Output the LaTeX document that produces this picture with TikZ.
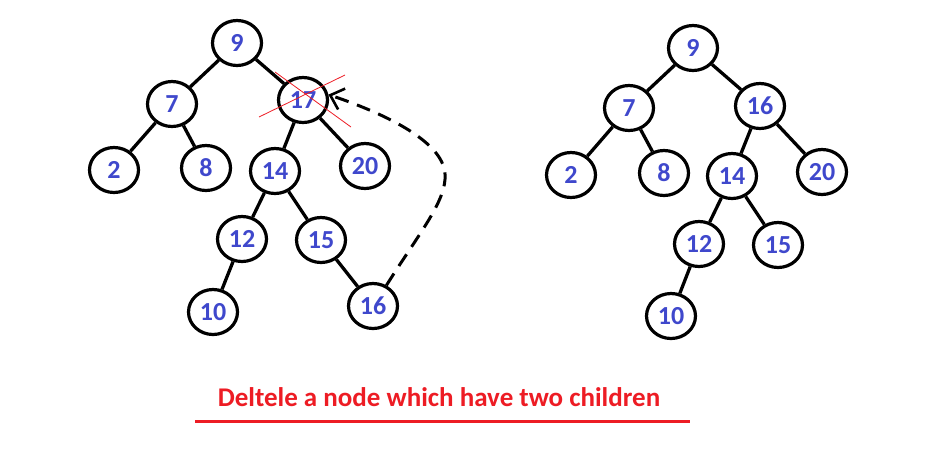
\documentclass[tikz,border=0pt]{standalone}
\usepackage{fontspec}
\setmainfont{Carlito}
\usepackage{xcolor}
\usetikzlibrary{shapes.geometric,arrows.meta}

\definecolor{numblue}{RGB}{63,72,204}
\definecolor{paintred}{RGB}{237,28,36}

\begin{document}
\begin{tikzpicture}[x=1pt,y=-1pt,
    treenode/.style={ellipse,draw,line width=3.2pt,minimum width=49pt,minimum height=45pt,inner sep=0pt,
        font=\fontsize{26}{26}\selectfont\bfseries,text=numblue},
    branch/.style={line width=3.3pt}]
    \useasboundingbox (0,0) rectangle (947,459);

    % before deleting 17
    \node[treenode] (L9) at (237,43) {9};
    \node[treenode] (L7) at (172,104) {7};
    \node[treenode] (L17) at (303,100) {17};
    \node[treenode] (L2) at (114,170) {2};
    \node[treenode] (L8) at (206,168) {8};
    \node[treenode] (L14) at (275,171) {14};
    \node[treenode] (L20) at (365,166) {20};
    \node[treenode] (L12) at (242,239) {12};
    \node[treenode] (L15) at (321,240) {15};
    \node[treenode] (L10) at (213,312) {10};
    \node[treenode] (L16) at (373,306) {16};

    \draw[branch] (L9) -- (L7);
    \draw[branch] (L9) -- (L17);
    \draw[branch] (L7) -- (L2);
    \draw[branch] (L7) -- (L8);
    \draw[branch] (L17) -- (L14);
    \draw[branch] (L17) -- (L20);
    \draw[branch] (L14) -- (L12);
    \draw[branch] (L14) -- (L15);
    \draw[branch] (L12) -- (L10);
    \draw[branch] (L15) -- (L16);

    % cross over 17
    \draw[paintred,line width=0.8pt] (275,72) -- (351,127);
    \draw[paintred,line width=0.8pt] (259,117) -- (345,75);

    % 16 moves up
    \coordinate (bend) at (445,174);
    \draw[line width=3pt,dash pattern=on 14pt off 9pt,-{Straight Barb[length=12pt,width=22pt,line width=2.6pt]}]
        (L16.57) .. controls (420,232) and (447,200) .. (bend)
        .. controls (443,140) and (380,112) .. (L17.12);

    % after deleting 17
    \node[treenode] (R9) at (693,48) {9};
    \node[treenode] (R7) at (629,108) {7};
    \node[treenode] (R16) at (760,106) {16};
    \node[treenode] (R2) at (571,175) {2};
    \node[treenode] (R8) at (664,173) {8};
    \node[treenode] (R14) at (732,176) {14};
    \node[treenode] (R20) at (822,172) {20};
    \node[treenode] (R12) at (699,244) {12};
    \node[treenode] (R15) at (778,245) {15};
    \node[treenode] (R10) at (671,316) {10};

    \draw[branch] (R9) -- (R7);
    \draw[branch] (R9) -- (R16);
    \draw[branch] (R7) -- (R2);
    \draw[branch] (R7) -- (R8);
    \draw[branch] (R16) -- (R14);
    \draw[branch] (R16) -- (R20);
    \draw[branch] (R14) -- (R12);
    \draw[branch] (R14) -- (R15);
    \draw[branch] (R12) -- (R10);

    % caption
    \node[font=\fontsize{27}{27}\selectfont\bfseries,text=paintred,inner sep=0pt] (caption) at (439,397)
        {Deltele a node which have two children};
    \draw[paintred,line width=3pt] (195,421) -- (690,421);
\end{tikzpicture}
\end{document}
